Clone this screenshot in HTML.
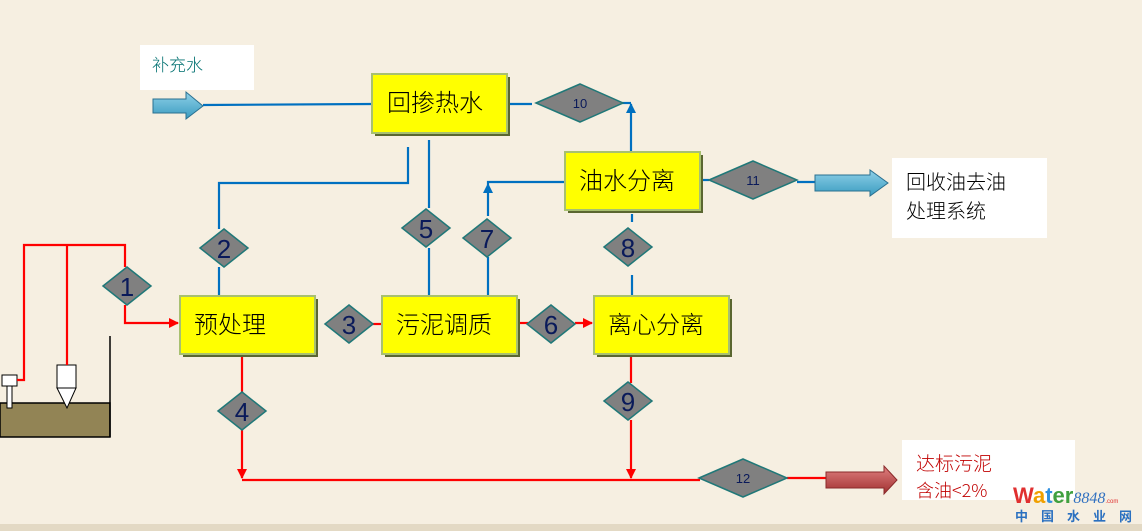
<!DOCTYPE html>
<html><head><meta charset="utf-8"><style>
body{margin:0;width:1142px;height:531px;overflow:hidden;background:#f6efe1}
svg{display:block}
text{font-family:"Liberation Sans","Noto Sans CJK SC",sans-serif}
.cj{font-family:"Noto Sans CJK SC",sans-serif;font-weight:300}
</style></head><body>
<svg width="1142" height="531" viewBox="0 0 1142 531" xmlns="http://www.w3.org/2000/svg">
<defs>
<marker id="ar" markerWidth="10" markerHeight="10" refX="9" refY="5" orient="auto" markerUnits="userSpaceOnUse"><path d="M0,0 L10,5 L0,10 Z" fill="#ff0000"/></marker>
<marker id="ab" markerWidth="10" markerHeight="10" refX="9" refY="5" orient="auto" markerUnits="userSpaceOnUse"><path d="M0,0 L10,5 L0,10 Z" fill="#0070c0"/></marker>
<linearGradient id="bg" x1="0" y1="0" x2="0" y2="1"><stop offset="0" stop-color="#8fd0e8"/><stop offset="1" stop-color="#3a9cc0"/></linearGradient>
<linearGradient id="rg" x1="0" y1="0" x2="0" y2="1"><stop offset="0" stop-color="#e08080"/><stop offset="1" stop-color="#a03030"/></linearGradient>
</defs>
<rect x="0" y="524" width="1142" height="7" fill="#e3d9c4"/>
<rect x="140" y="45" width="114" height="45" fill="#fff"/>
<text x="152" y="71" font-size="17" fill="#007070" class="cj">补充水</text>
<rect x="892" y="158" width="155" height="80" fill="#fff"/>
<text x="906" y="189" font-size="20" fill="#000" class="cj">回收油去油</text>
<text x="906" y="218" font-size="20" fill="#000" class="cj">处理系统</text>
<rect x="902" y="440" width="173" height="60" fill="#fff"/>
<text x="916" y="470" font-size="19" fill="#c00000" class="cj">达标污泥</text>
<text x="916" y="497" font-size="18" fill="#c00000" class="cj">含油&lt;2%</text>
<text x="1013" y="503" font-size="22" font-weight="bold" fill="#e03030">W<tspan fill="#f0a000">a</tspan><tspan fill="#3090e0">t</tspan><tspan fill="#40a040">er</tspan><tspan font-size="16" font-weight="normal" font-style="italic" fill="#3070c0" font-family="Liberation Serif">8848</tspan><tspan font-size="6" font-weight="normal" fill="#e03030">.com</tspan></text>
<text x="1015" y="521" font-size="13" font-weight="bold" fill="#2a70c0" letter-spacing="13">中国水业网</text>
<rect x="0" y="403" width="110" height="34" fill="#928455" stroke="#000" stroke-width="1.5"/>
<line x1="110" y1="336" x2="110" y2="437" stroke="#000" stroke-width="1.5"/>
<rect x="7" y="386" width="5" height="22" fill="#fff" stroke="#000"/>
<rect x="2" y="375" width="15" height="11" fill="#fff" stroke="#000"/>
<rect x="57" y="365" width="19" height="23" fill="#fff" stroke="#000"/>
<path d="M57,388 L76,388 L67,408 Z" fill="#fff" stroke="#000"/>
<g stroke="#ff0000" stroke-width="2.2" fill="none">
<path d="M17,380 H24 V245 H125 V267"/>
<path d="M67,245 V365"/>
<path d="M125,305 V323 H178" marker-end="url(#ar)"/>
<path d="M242,354 V393"/>
<path d="M242,430 V478" marker-end="url(#ar)"/>
<path d="M242,480 H700"/>
<path d="M631,354 V383"/>
<path d="M631,420 V478" marker-end="url(#ar)"/>
<path d="M372,324 H382"/>
<path d="M517,323 H528"/>
<path d="M575,323 H592" marker-end="url(#ar)"/>
<path d="M787,478 H830"/>
</g>
<path d="M826,472 H884 V466 L897,480 L884,494 V488 H826 Z" fill="url(#rg)" stroke="#8a2a2a"/>
<g stroke="#0070c0" stroke-width="2.2" fill="none">
<path d="M203,105 L372,104"/>
<path d="M507,104 H532"/>
<path d="M620,103 H631"/>
<path d="M631,168 V104" marker-end="url(#ab)"/>
<path d="M408,147 V183 H219 V229"/>
<path d="M219,267 V296"/>
<path d="M429,140 V208"/>
<path d="M429,248 V296"/>
<path d="M565,182 H488 V184"/>
<path d="M488,216 V184" marker-end="url(#ab)"/>
<path d="M488,257 V296"/>
<path d="M632,214 V222"/>
<path d="M632,275 V296"/>
<path d="M700,180 H709"/>
<path d="M797,182 H855"/>
</g>
<path d="M153,99 H186 V92 L203,106 L186,119 V113 H153 Z" fill="url(#bg)" stroke="#2a7090"/>
<path d="M815,175 H870 V170 L888,183 L870,196 V191 H815 Z" fill="url(#bg)" stroke="#2a7090"/>
<g stroke="#a8c070" stroke-width="2" fill="#ffff00">
<rect x="375" y="77" width="135" height="59" fill="#5a6630" stroke="none"/>
<rect x="372" y="74" width="135" height="59"/>
<rect x="568" y="155" width="135" height="58" fill="#5a6630" stroke="none"/>
<rect x="565" y="152" width="135" height="58"/>
<rect x="183" y="299" width="135" height="58" fill="#5a6630" stroke="none"/>
<rect x="180" y="296" width="135" height="58"/>
<rect x="385" y="299" width="135" height="58" fill="#5a6630" stroke="none"/>
<rect x="382" y="296" width="135" height="58"/>
<rect x="597" y="299" width="135" height="58" fill="#5a6630" stroke="none"/>
<rect x="594" y="296" width="135" height="58"/>
</g>
<g font-size="24" fill="#000" class="cj">
<text x="387" y="111">回掺热水</text>
<text x="579" y="189">油水分离</text>
<text x="194" y="333">预处理</text>
<text x="396" y="333">污泥调质</text>
<text x="608" y="333">离心分离</text>
</g>
<g fill="#808080" stroke="#207878" stroke-width="1.5">
<path d="M103,286 L127,267 L151,286 L127,305 Z"/>
<path d="M200,248 L224,229 L248,248 L224,267 Z"/>
<path d="M325,324 L349,305 L373,324 L349,343 Z"/>
<path d="M218,411 L242,392 L266,411 L242,430 Z"/>
<path d="M402,228 L426,209 L450,228 L426,247 Z"/>
<path d="M463,238 L487,219 L511,238 L487,257 Z"/>
<path d="M604,247 L628,228 L652,247 L628,266 Z"/>
<path d="M604,401 L628,382 L652,401 L628,420 Z"/>
<path d="M527,324 L551,305 L575,324 L551,343 Z"/>
<path d="M536,103 L580,84 L623,103 L580,122 Z"/>
<path d="M709,180 L753,161 L797,180 L753,199 Z"/>
<path d="M699,478 L743,459 L787,478 L743,497 Z"/>
</g>
<g font-size="26" fill="#0a1a5a" text-anchor="middle">
<text x="127" y="296">1</text>
<text x="224" y="258">2</text>
<text x="349" y="334">3</text>
<text x="242" y="421">4</text>
<text x="426" y="238">5</text>
<text x="487" y="248">7</text>
<text x="628" y="257">8</text>
<text x="628" y="411">9</text>
<text x="551" y="334">6</text>
</g>
<g font-size="13" fill="#0a1a5a" text-anchor="middle">
<text x="580" y="108">10</text>
<text x="753" y="185">11</text>
<text x="743" y="483">12</text>
</g>
</svg>
</body></html>
